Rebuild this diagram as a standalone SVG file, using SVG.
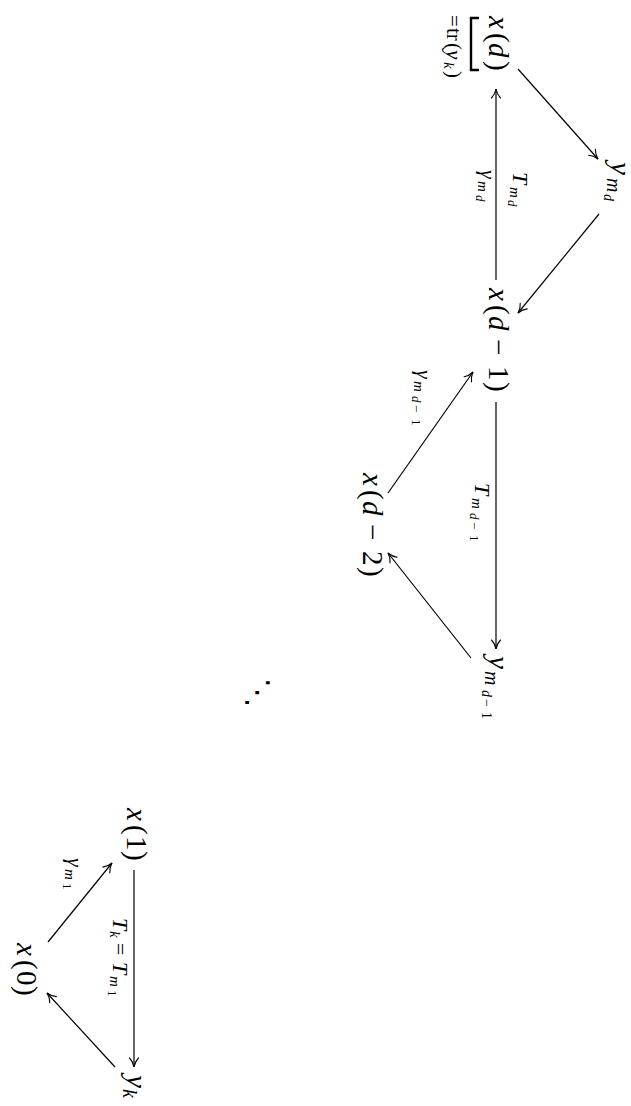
<svg xmlns="http://www.w3.org/2000/svg" width="631" height="1106" viewBox="0 0 631 1106" font-family="'Liberation Serif','Times New Roman',serif">
<defs>
<style>
.t{font-family:"Liberation Serif","Times New Roman",serif;fill:#000}
.i{font-style:italic}
.n{font-size:29px}
.s{font-size:20px}
.ss{font-size:14px}
.l{font-size:22px}
.ls{font-size:15px}
.lss{font-size:13px}
.edge{stroke:#000;stroke-width:1.2;fill:none;marker-end:url(#arr)}
</style>
<marker id="arr" viewBox="-11 -6 13 12" refX="0" refY="0" markerWidth="13" markerHeight="12" markerUnits="userSpaceOnUse" orient="auto" overflow="visible">
<path d="M -9,-4.5 C -6,-1.5 -2,-0.4 0,0 C -2,0.4 -6,1.5 -9,4.5" fill="none" stroke="#000" stroke-width="1.1" stroke-linecap="round"/>
</marker>
</defs>
<rect width="631" height="1106" fill="#fff"/>

<g id="connectors">
<path class="edge" d="M496,280 L496,89"/>
<path class="edge" d="M518,69 L598,159"/>
<path class="edge" d="M599,214 L518,313"/>
<path class="edge" d="M496,402 L496,649"/>
<path class="edge" d="M388,493 L473,372"/>
<path class="edge" d="M471,658 L388,553"/>
<path class="edge" d="M48,942 L112,863"/>
<path class="edge" d="M134,870 L134,1067"/>
<path class="edge" d="M115,1067 L47,993"/>
</g>

<g id="edge-labels" class="t">
<text transform="translate(513,0) rotate(90)"><tspan class="l i" x="172" y="0">T</tspan><tspan class="ls i" x="187" y="3">m</tspan><tspan class="lss i" x="200" y="5.5">d</tspan></text>
<text transform="translate(481,0) rotate(90)"><tspan class="l i" x="170" y="0">γ</tspan><tspan class="ls i" x="181" y="3">m</tspan><tspan class="lss i" x="195" y="5.5">d</tspan></text>
<text transform="translate(475,0) rotate(90)"><tspan class="l i" x="483" y="0">T</tspan><tspan class="ls i" x="498" y="3">m</tspan><tspan class="lss i" x="513" y="5.5">d</tspan><tspan class="lss" x="522" y="5.5">−</tspan><tspan class="lss" x="535" y="5.5">1</tspan></text>
<text transform="translate(417,0) rotate(90)"><tspan class="l i" x="370" y="0">γ</tspan><tspan class="ls i" x="381" y="3">m</tspan><tspan class="lss i" x="396" y="5.5">d</tspan><tspan class="lss" x="405" y="5.5">−</tspan><tspan class="lss" x="419" y="5.5">1</tspan></text>
<text transform="translate(68,0) rotate(90)"><tspan class="l i" x="858" y="0">γ</tspan><tspan class="ls i" x="869" y="3">m</tspan><tspan class="lss" x="883" y="5.5">1</tspan></text>
<text transform="translate(113,0) rotate(90)"><tspan class="l i" x="918" y="0">T</tspan><tspan class="ls i" x="931" y="3">k</tspan><tspan class="l" x="943" y="0">=</tspan><tspan class="l i" x="962" y="0">T</tspan><tspan class="ls i" x="976" y="3">m</tspan><tspan class="lss" x="990" y="5.5">1</tspan></text>
</g>

<g id="node-xd">
<text class="t n" transform="translate(489,0) rotate(90)"><tspan class="i" x="16" y="0">x</tspan><tspan x="33">(</tspan><tspan class="i" x="43">d</tspan><tspan x="61">)</tspan></text>
<path d="M479,18 H471 V70 H479" fill="none" stroke="#000" stroke-width="2.4"/>
<text class="t" style="font-size:21px" transform="translate(447,0) rotate(90)"><tspan x="15" y="0">=</tspan><tspan x="28">tr</tspan><tspan x="43">(</tspan><tspan class="i" x="50">y</tspan><tspan class="ls i" x="62" y="3">k</tspan><tspan x="71" y="0">)</tspan></text>
</g>

<g id="node-ymd">
<text class="t" transform="translate(611,0) rotate(90)"><tspan class="n i" x="162" y="0">y</tspan><tspan class="s i" x="178" y="4.5">m</tspan><tspan class="ss i" x="194" y="7">d</tspan></text>
</g>

<g id="node-xd1">
<text class="t n" transform="translate(489,0) rotate(90)"><tspan class="i" x="288" y="0">x</tspan><tspan x="305">(</tspan><tspan class="i" x="316">d</tspan><tspan x="339">−</tspan><tspan x="366">1</tspan><tspan x="382">)</tspan></text>
</g>

<g id="node-ymd1">
<text class="t" transform="translate(489,0) rotate(90)"><tspan class="n i" x="656" y="0">y</tspan><tspan class="s i" x="671" y="4.5">m</tspan><tspan class="ss i" x="690" y="7.5">d</tspan><tspan class="ss" x="699" y="7.5">−</tspan><tspan class="ss" x="712" y="7.5">1</tspan></text>
</g>

<g id="node-xd2">
<text class="t n" transform="translate(363,0) rotate(90)"><tspan class="i" x="473" y="0">x</tspan><tspan x="490">(</tspan><tspan class="i" x="501">d</tspan><tspan x="524">−</tspan><tspan x="551">2</tspan><tspan x="567">)</tspan></text>
</g>

<g id="dots">
<text class="t" style="font-family:'DejaVu Sans',sans-serif;font-size:30px" text-anchor="middle" transform="translate(248,693) rotate(90)">⋱</text>
</g>

<g id="node-x1">
<text class="t n" transform="translate(127,0) rotate(90)"><tspan class="i" x="808" y="0">x</tspan><tspan x="825">(</tspan><tspan x="836">1</tspan><tspan x="851">)</tspan></text>
</g>

<g id="node-x0">
<text class="t n" transform="translate(17,0) rotate(90)"><tspan class="i" x="943" y="0">x</tspan><tspan x="960">(</tspan><tspan x="971">0</tspan><tspan x="986">)</tspan></text>
</g>

<g id="node-yk">
<text class="t" transform="translate(127,0) rotate(90)"><tspan class="n i" x="1075" y="0">y</tspan><tspan class="s i" x="1089" y="4.5">k</tspan></text>
</g>
</svg>
